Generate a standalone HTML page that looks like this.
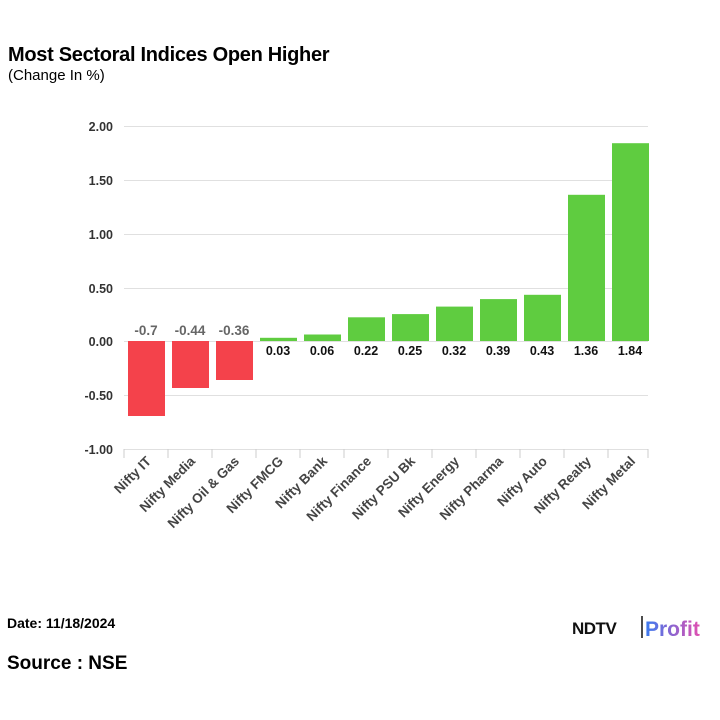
<!DOCTYPE html>
<html><head><style>body{margin:0;background:#fff}svg{display:block}</style></head><body>
<svg width="720" height="720" xmlns="http://www.w3.org/2000/svg" font-family="Liberation Sans, sans-serif">
<rect width="720" height="720" fill="#fff"/>
<text x="8" y="61" font-size="20" font-weight="bold" fill="#000" letter-spacing="-0.3">Most Sectoral Indices Open Higher</text>
<text x="8" y="80" font-size="15" fill="#000">(Change In %)</text>
<g stroke="#e0e0e0" stroke-width="1">
<line x1="124" x2="648" y1="126.5" y2="126.5"/><line x1="124" x2="648" y1="180.5" y2="180.5"/>
<line x1="124" x2="648" y1="234.5" y2="234.5"/><line x1="124" x2="648" y1="288.5" y2="288.5"/>
<line x1="124" x2="648" y1="341.5" y2="341.5"/><line x1="124" x2="648" y1="395.5" y2="395.5"/>
<line x1="124" x2="648" y1="449.5" y2="449.5"/>
</g>
<g stroke="#ccc"><line x1="124" x2="124" y1="449" y2="458"/><line x1="168" x2="168" y1="449" y2="458"/><line x1="212" x2="212" y1="449" y2="458"/><line x1="256" x2="256" y1="449" y2="458"/><line x1="300" x2="300" y1="449" y2="458"/><line x1="344" x2="344" y1="449" y2="458"/><line x1="388" x2="388" y1="449" y2="458"/><line x1="432" x2="432" y1="449" y2="458"/><line x1="476" x2="476" y1="449" y2="458"/><line x1="520" x2="520" y1="449" y2="458"/><line x1="564" x2="564" y1="449" y2="458"/><line x1="608" x2="608" y1="449" y2="458"/><line x1="648" x2="648" y1="449" y2="458"/></g>
<g font-size="12.5" font-weight="bold" fill="#333" text-anchor="end">
<text x="113" y="131">2.00</text><text x="113" y="185">1.50</text><text x="113" y="239">1.00</text>
<text x="113" y="293">0.50</text><text x="113" y="346">0.00</text><text x="113" y="400">-0.50</text><text x="113" y="454">-1.00</text>
</g>
<g fill="#f4424b">
<rect x="128" y="341" width="37" height="75"/>
<rect x="172" y="341" width="37" height="47"/>
<rect x="216" y="341" width="37" height="39"/>
</g>
<g fill="#5fcc40">
<rect x="260" y="337.8" width="37" height="3.2"/>
<rect x="304" y="334.5" width="37" height="6.5"/>
<rect x="348" y="317.3" width="37" height="23.7"/>
<rect x="392" y="314.1" width="37" height="26.9"/>
<rect x="436" y="306.6" width="37" height="34.4"/>
<rect x="480" y="299.1" width="37" height="41.9"/>
<rect x="524" y="294.8" width="37" height="46.2"/>
<rect x="568" y="194.8" width="37" height="146.2"/>
<rect x="612" y="143.2" width="37" height="197.8"/>
</g>
<g font-size="13.5" font-weight="bold" fill="#666" text-anchor="middle">
<text x="146" y="335">-0.7</text><text x="190" y="335">-0.44</text><text x="234" y="335">-0.36</text>
</g>
<g font-size="12.5" font-weight="bold" fill="#111" text-anchor="middle">
<text x="278" y="355">0.03</text><text x="322" y="355">0.06</text><text x="366" y="355">0.22</text>
<text x="410" y="355">0.25</text><text x="454" y="355">0.32</text><text x="498" y="355">0.39</text>
<text x="542" y="355">0.43</text><text x="586" y="355">1.36</text><text x="630" y="355">1.84</text>
</g>
<g font-size="13.5" font-weight="bold" fill="#444" text-anchor="end">
<text transform="translate(152,462) rotate(-45)">Nifty IT</text>
<text transform="translate(196,462) rotate(-45)">Nifty Media</text>
<text transform="translate(240,462) rotate(-45)">Nifty Oil &amp; Gas</text>
<text transform="translate(284,462) rotate(-45)">Nifty FMCG</text>
<text transform="translate(328,462) rotate(-45)">Nifty Bank</text>
<text transform="translate(372,462) rotate(-45)">Nifty Finance</text>
<text transform="translate(416,462) rotate(-45)">Nifty PSU Bk</text>
<text transform="translate(460,462) rotate(-45)">Nifty Energy</text>
<text transform="translate(504,462) rotate(-45)">Nifty Pharma</text>
<text transform="translate(548,462) rotate(-45)">Nifty Auto</text>
<text transform="translate(592,462) rotate(-45)">Nifty Realty</text>
<text transform="translate(636,462) rotate(-45)">Nifty Metal</text>
</g>
<text x="7" y="628" font-size="14" font-weight="bold" fill="#000">Date: 11/18/2024</text>
<text x="7" y="669" font-size="19" font-weight="bold" fill="#000">Source : NSE</text>
<text x="572" y="634" font-size="17" font-weight="bold" fill="#111" letter-spacing="-0.5">NDTV</text>
<line x1="642" x2="642" y1="616" y2="638" stroke="#111" stroke-width="1.5"/>
<defs><linearGradient id="g" x1="0" x2="1"><stop offset="0" stop-color="#3a7bf0"/><stop offset="1" stop-color="#e04fb0"/></linearGradient></defs>
<text x="645" y="636" font-size="21" font-weight="bold" fill="url(#g)">Profit</text>
</svg>
</body></html>
